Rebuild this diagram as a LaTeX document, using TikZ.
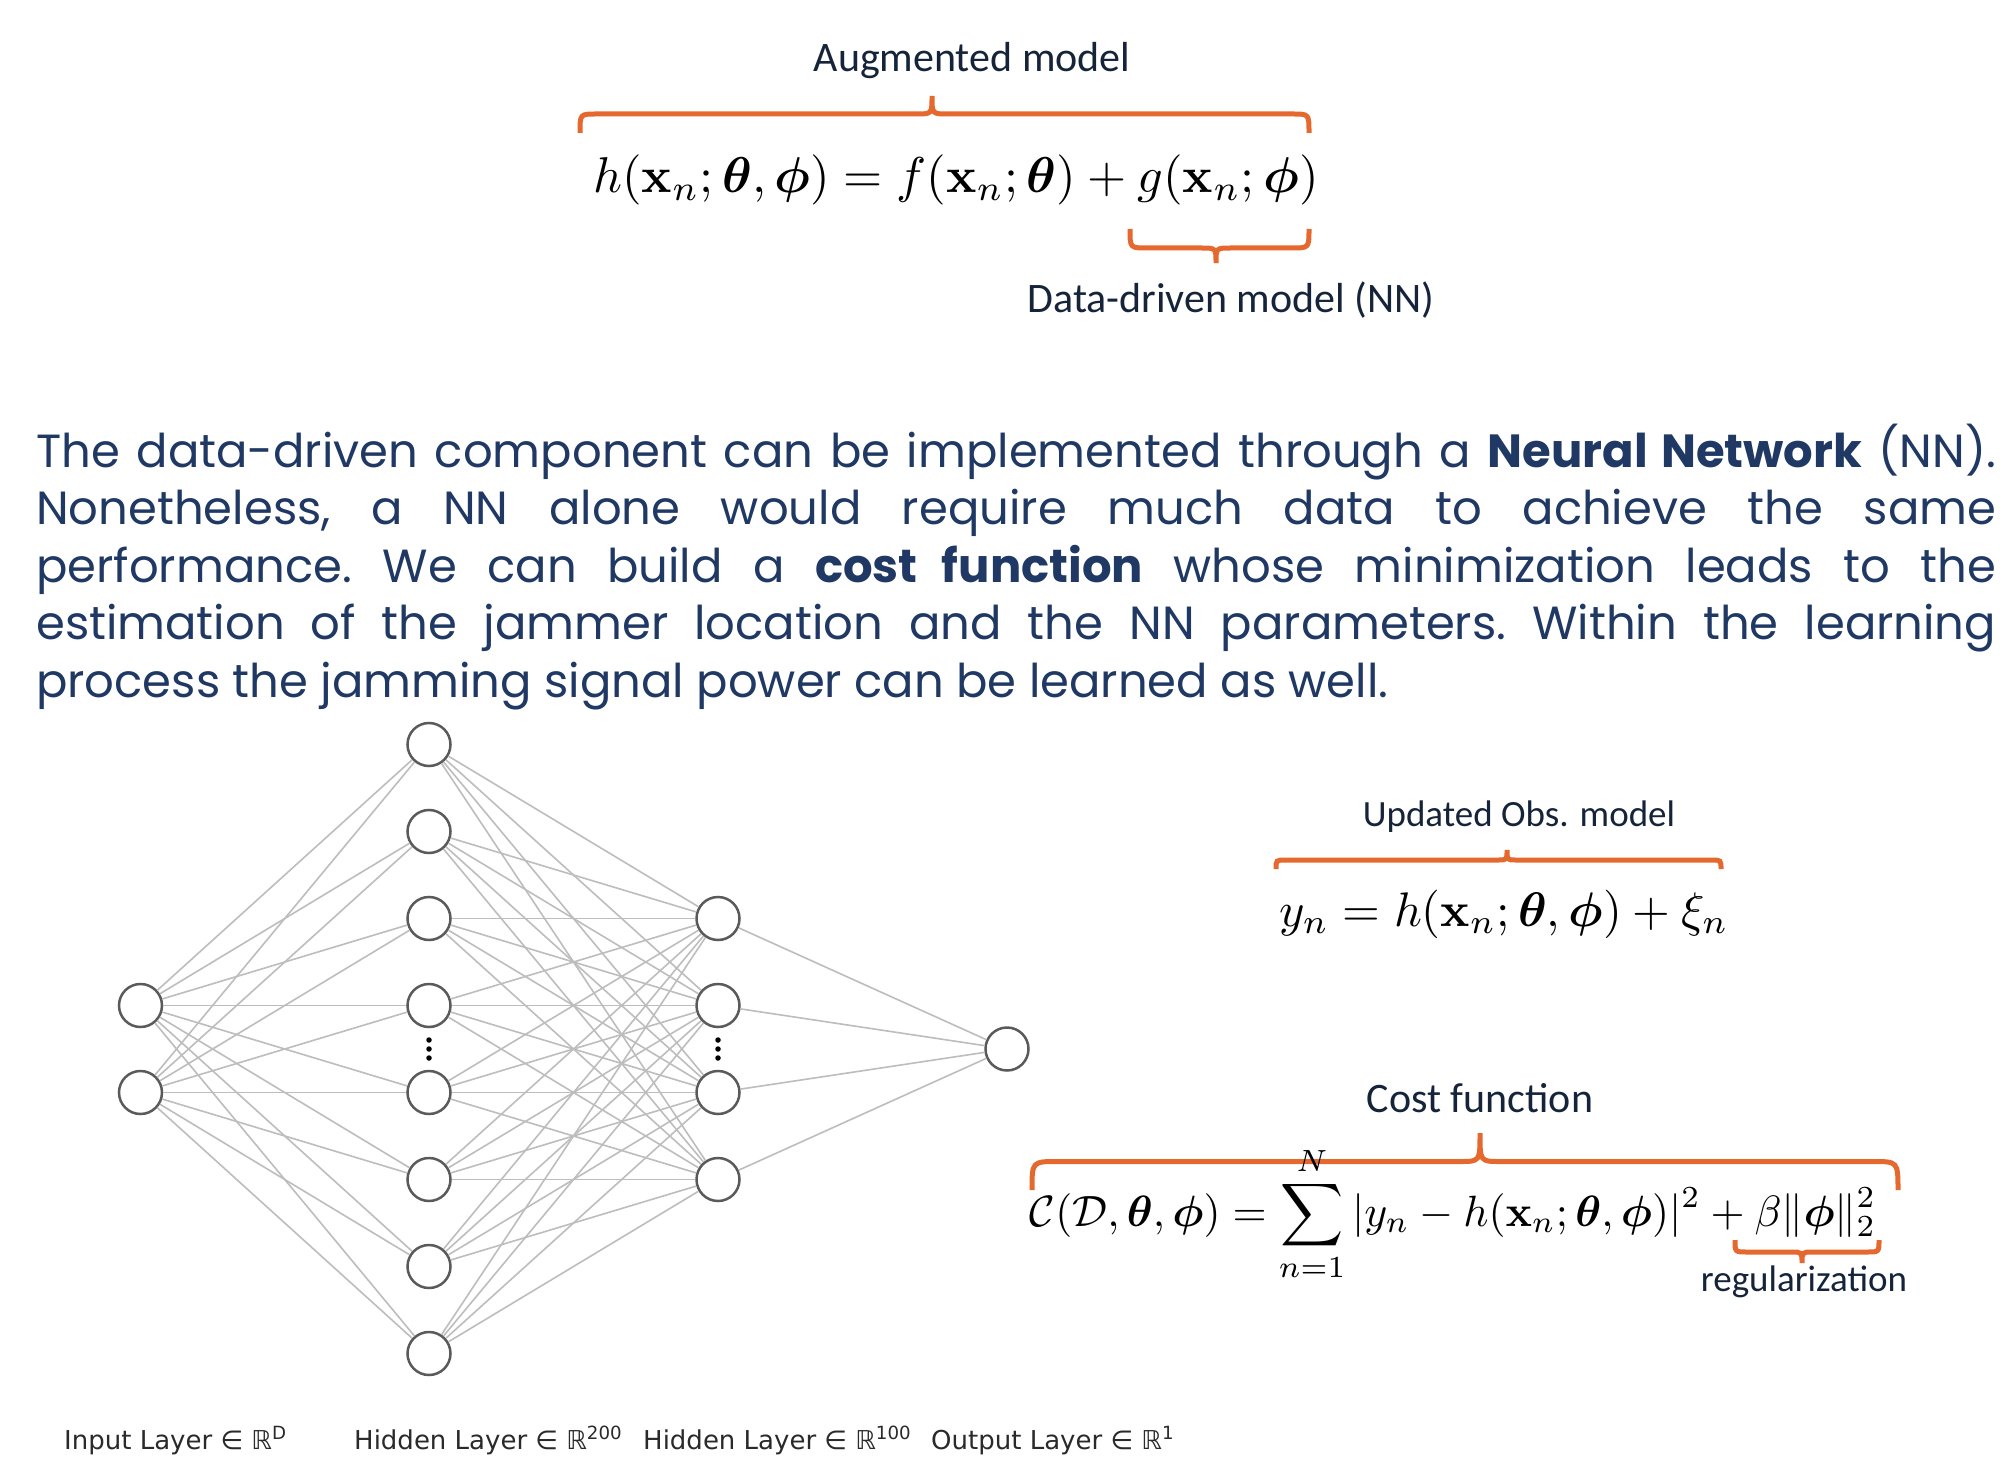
\documentclass[tikz,border=0pt]{standalone}
\usepackage{amsmath,bm}
\usepackage[no-math]{fontspec}
\newfontfamily\parafont{Poppins}
\newfontfamily\labfont{Carlito}
\newfontfamily\nnfont{DejaVu Sans}
\definecolor{brc}{HTML}{E5692F}
\definecolor{navy}{HTML}{1F3864}
\definecolor{labc}{HTML}{16243A}
\definecolor{edgec}{HTML}{BDBDBD}
\definecolor{nodec}{HTML}{5A5A5A}
\definecolor{nnlab}{HTML}{2A2A2A}
\newcommand\mybrace[8]{%
  \draw[bracestyle] (#1,#5) .. controls (#1,#4) .. (#1+#7,#4) -- (#3-#8,#4)
    .. controls (#3,#4) .. (#3,#6) .. controls (#3,#4) .. (#3+#8,#4)
    -- (#2-#7,#4) .. controls (#2,#4) .. (#2,#5);}
\begin{document}
\begin{tikzpicture}[x=1pt,y=-1pt,
  bracestyle/.style={draw=brc, line width=5pt},
  neuron/.style={circle, draw=nodec, line width=2.5pt, fill=white, minimum size=43pt, inner sep=0pt},
  nnlink/.style={draw=edgec, line width=1.6pt},
  eqn/.style={scale=5, anchor=base, inner sep=0pt},
  lab/.style={anchor=base, inner sep=0pt, text=labc, font=\labfont\fontsize{42}{50}\selectfont},
  smalllab/.style={lab, font=\labfont\fontsize{37}{44}\selectfont},
  nnl/.style={anchor=base west, inner sep=0pt, text=nnlab, font=\nnfont\fontsize{26}{30}\selectfont},
  vdot/.style={circle, fill=black, inner sep=0pt, minimum size=5.5pt}]
\useasboundingbox[fill=white] (0,0) rectangle (2006,1463);

% ---- top equation
\node[lab] (augl) at (972,72) {Augmented model};
\mybrace{580}{1309}{932}{114}{133}{96}{16}{16}
\node[eqn, scale=1.006] (eqtop) at (956,192.5) {$h(\mathbf{x}_n;\boldsymbol{\theta},\boldsymbol{\phi}) = f(\mathbf{x}_n;\boldsymbol{\theta}) + g(\mathbf{x}_n;\boldsymbol{\phi})$};
\mybrace{1130}{1309}{1216}{248}{229}{263}{17}{15}
\node[lab] (ddl) at (1231,313) {Data-driven model (NN)};

% ---- paragraph
\node[anchor=base west, inner sep=0pt, text width=1960pt, align=justify, text=navy,
  font=\parafont\fontsize{46.5}{57.5}\selectfont] (para) at (36,467)
  {\frenchspacing\hyphenpenalty=10000 \exhyphenpenalty=10000 \tolerance=10000
  The data-driven component can be implemented through a \textbf{Neural Network} (NN).\linebreak
  Nonetheless, a NN alone would require much data to achieve the same\linebreak
  performance. We can build a \textbf{cost function} whose minimization leads to the\linebreak
  estimation of the jammer location and the NN parameters. Within the learning\linebreak
  process the jamming signal power can be learned as well.};

% ---- neural network
\node[neuron] (i1) at (140.5,1005.5) {};
\node[neuron] (i2) at (140.5,1092.5) {};
\foreach \k [evaluate=\k as \yy using 744.5+87*(\k-1)] in {1,...,8}
  \node[neuron] (h\k) at (429,\yy) {};
\foreach \k [evaluate=\k as \yy using 918.5+87*(\k-1)] in {1,...,4}
  \node[neuron] (g\k) at (718,\yy) {};
\node[neuron] (o) at (1007,1049) {};
\foreach \a in {1,2} \foreach \b in {1,...,8} \draw[nnlink] (i\a) -- (h\b);
\foreach \a in {1,...,8} \foreach \b in {1,...,4} \draw[nnlink] (h\a) -- (g\b);
\foreach \a in {1,...,4} \draw[nnlink] (g\a) -- (o);
\foreach \xx/\nm in {429/a,718/b}
  \foreach \yy/\j in {1040/1,1049/2,1058/3}
    \node[vdot] (dot\nm\j) at (\xx,\yy) {};

\node[nnl] (l1) at (64,1449) {Input Layer ∈ ℝ\textsuperscript{D}};
\node[nnl] (l2) at (354,1449) {Hidden Layer ∈ ℝ\textsuperscript{200}};
\node[nnl] (l3) at (643,1449) {Hidden Layer ∈ ℝ\textsuperscript{100}};
\node[nnl] (l4) at (931,1449) {Output Layer ∈ ℝ\textsuperscript{1}};

% ---- observation model
\node[smalllab] (updl) at (1519,826) {Updated Obs. model};
\mybrace{1276}{1721}{1507}{860}{869}{850}{10}{9}
\node[eqn, scale=0.97] (eqobs) at (1504,926) {$y_n = h(\mathbf{x}_n;\boldsymbol{\theta},\boldsymbol{\phi}) + \xi_n$};

% ---- cost function
\node[lab] (costl) at (1480,1112) {Cost function};
\mybrace{1032}{1898}{1480}{1161.5}{1190}{1133}{26}{20}
\node[eqn, scale=0.876] (eqcost) at (1453,1226) {$\displaystyle \mathcal{C}(\mathcal{D},\boldsymbol{\theta},\boldsymbol{\phi}) = \sum_{n=1}^{N} |y_n - h(\mathbf{x}_n;\boldsymbol{\theta},\boldsymbol{\phi})|^2 + \beta\|\boldsymbol{\phi}\|_2^2$};
\mybrace{1735}{1879}{1802}{1252}{1240}{1263}{12}{11}
\node[smalllab] (regl) at (1804,1291) {regularization};
\end{tikzpicture}
\end{document}
